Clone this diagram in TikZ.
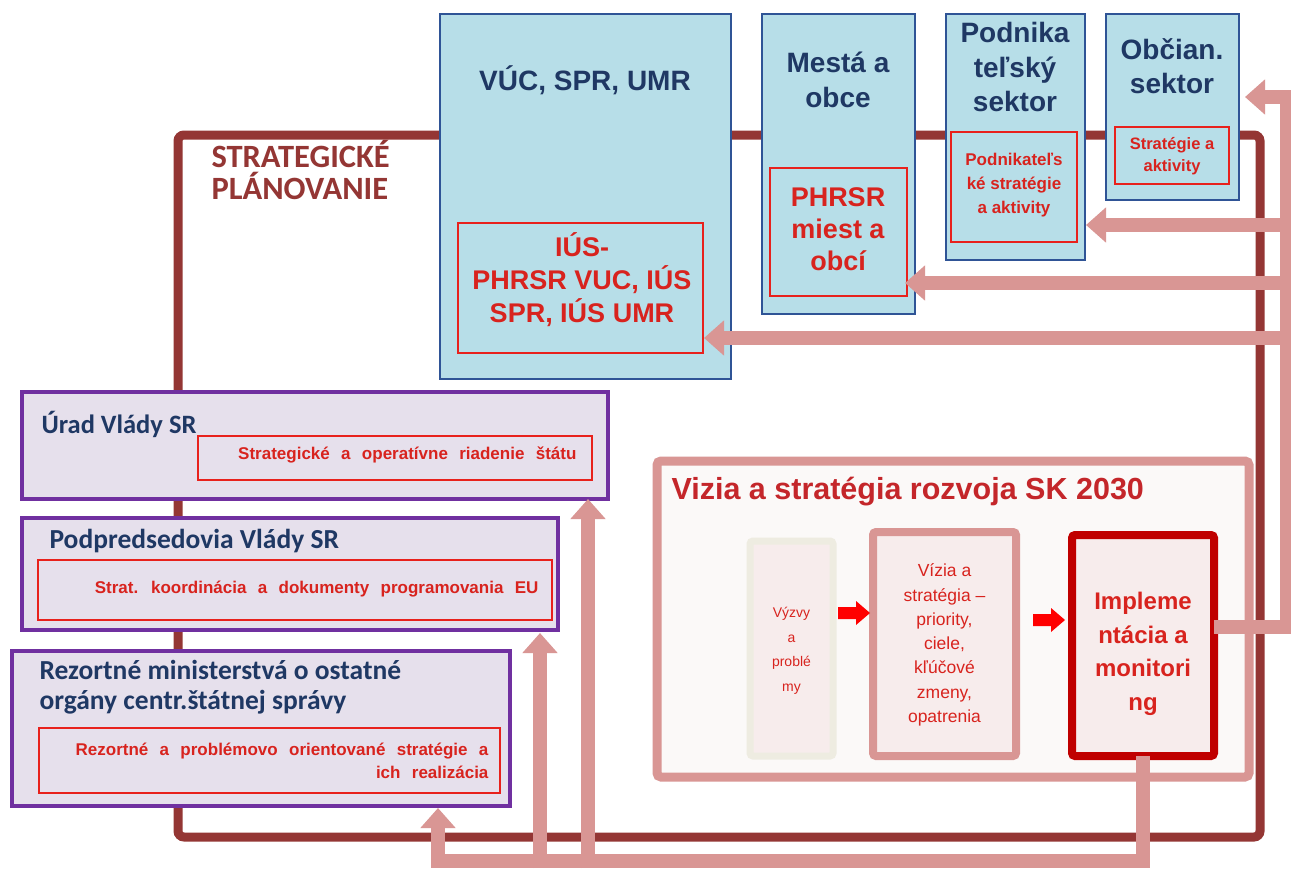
\documentclass[tikz,border=0pt]{standalone}
\usepackage{fontspec}
\setmainfont{Liberation Sans}
\newfontfamily\carl{Carlito}
\newfontfamily\redsm[WordSpace=2.4]{Liberation Sans}
\usetikzlibrary{arrows.meta}
\definecolor{cBlueFill}{HTML}{B7DEE8}
\definecolor{cBlueLine}{HTML}{2F5496}
\definecolor{cNavyTxt}{HTML}{1F3864}
\definecolor{cRedLine}{HTML}{E8211C}
\definecolor{cRedTxt}{HTML}{D8231E}
\definecolor{cPurple}{HTML}{7030A0}
\definecolor{cLilac}{HTML}{E6E0EC}
\definecolor{cFrame}{HTML}{943634}
\definecolor{cPink}{HTML}{D99694}
\definecolor{cPaper}{HTML}{FBF9F8}
\definecolor{cBeige}{HTML}{EEECE1}
\definecolor{cBlush}{HTML}{F7ECEC}
\definecolor{cDeepRed}{HTML}{C00000}
\definecolor{cTitleRed}{HTML}{C4262A}
\newcommand\fsz[2]{\fontsize{#1}{#2}\selectfont}
\begin{document}
\begin{tikzpicture}[x=1pt,y=-1pt,
  box/.style={anchor=north west,inner sep=0pt,outer sep=0pt},
  topbox/.style={box,draw=cBlueLine,line width=2pt,fill=cBlueFill},
  redbox/.style={box,draw=cRedLine,line width=2pt},
  govbox/.style={box,draw=cPurple,line width=4pt,fill=cLilac},
  toptitle/.style={align=center,text=cNavyTxt,font=\bfseries\fsz{28}{34.5}},
  redtxt/.style={align=center,text=cRedTxt,font=\bfseries\fsz{27}{33}},
  redsmall/.style={text=cRedTxt,font=\redsm\bfseries\fsz{17}{23}},
  govtitle/.style={anchor=west,align=left,text=cNavyTxt,font=\carl\bfseries\fsz{27.5}{30}},
  pinkline/.style={draw=cPink,line width=14pt,line join=miter},
  pinktip/.style={-{Triangle[width=34pt,length=20pt]}},
  redarrow/.style={fill=red,draw=none}
]
\useasboundingbox (0,0) rectangle (1291,870);
\fill[white] (0,0) rectangle (1291,870);

% strategic planning frame
\draw[draw=cFrame,line width=9pt,rounded corners=6pt] (178,135) rectangle (1260,837);
\node[anchor=north west,align=left,text=cFrame,font=\carl\bfseries\fsz{32.5}{32}] (sp) at (208,137) {STRATEGICKÉ\\PLÁNOVANIE};

% top boxes
\node[topbox,minimum width=291pt,minimum height=365pt] (vuc) at (440,14) {};
\node[toptitle] (vucT) at (585,80) {VÚC, SPR, UMR};
\node[redbox,minimum width=245pt,minimum height=130pt] (vucI) at (458,223) {};
\node[redtxt] (vucIT) at (582,280) {IÚS-\\PHRSR VUC, IÚS\\SPR, IÚS UMR};

\node[topbox,minimum width=153pt,minimum height=300pt] (mes) at (762,14) {};
\node[toptitle] (mesT) at (838,80) {Mestá a\\obce};
\node[redbox,minimum width=137pt,minimum height=128pt] (mesI) at (770,168) {};
\node[redtxt,font=\bfseries\fsz{27}{32}] (mesIT) at (838,229) {PHRSR\\miest a\\obcí};

\node[topbox,minimum width=139pt,minimum height=246pt] (pod) at (946,14) {};
\node[toptitle] (podT) at (1015,67) {Podnika\\teľský\\sektor};
\node[redbox,minimum width=126pt,minimum height=110pt] (podI) at (951,132) {};
\node[align=center,text=cRedTxt,font=\bfseries\fsz{17}{24}] (podIT) at (1014,185) {Podnikateľs\\ké stratégie\\a aktivity};

\node[topbox,minimum width=133pt,minimum height=186pt] (obc) at (1106,14) {};
\node[toptitle] (obcT) at (1172,66) {Občian.\\sektor};
\node[redbox,minimum width=114pt,minimum height=57pt] (obcI) at (1115,127) {};
\node[align=center,text=cRedTxt,font=\bfseries\fsz{16.5}{22}] (obcIT) at (1172,156) {Stratégie a\\aktivity};

% government boxes
\node[govbox,minimum width=586pt,minimum height=107pt] (urad) at (22,392) {};
\node[govtitle,font=\carl\bfseries\fsz{26.5}{30}] (uradT) at (38,424) {Úrad Vlády SR};
\node[redbox,minimum width=394pt,minimum height=44pt] (uradI) at (198,436) {};
\node[redsmall,anchor=east] (uradIT) at (580,455) {Strategické a operatívne riadenie štátu};

\node[govbox,minimum width=536pt,minimum height=112pt] (podp) at (22,518) {};
\node[govtitle] (podpT) at (46,541) {Podpredsedovia Vlády SR};
\node[redbox,minimum width=514pt,minimum height=60pt] (podpI) at (38,560) {};
\node[redsmall,anchor=east] (podpIT) at (542,589) {Strat. koordinácia a dokumenty programovania EU};

\node[govbox,minimum width=498pt,minimum height=155pt] (rez) at (12,651) {};
\node[govtitle] (rezT) at (36,687) {Rezortné ministerstvá o ostatné\\orgány centr.štátnej správy};
\node[redbox,minimum width=461pt,minimum height=65pt] (rezI) at (39,728) {};
\node[redsmall,align=right,anchor=east] (rezIT) at (492,761) {Rezortné a problémovo orientované stratégie a\\ich realizácia};

% vision box
\node[box,draw=cPink,line width=9pt,fill=cPaper,rounded corners=4pt,minimum width=592pt,minimum height=316pt] (viz) at (657,461) {};
\node[anchor=west,text=cTitleRed,font=\bfseries\fsz{30.5}{32}] (vizT) at (668,492) {Vizia a stratégia rozvoja SK 2030};

\node[box,draw=cBeige,line width=7pt,fill=cBlush,rounded corners=3pt,minimum width=83pt,minimum height=215pt] (vyz) at (750,541) {};
\node[align=center,text=cRedTxt,font=\fsz{14}{24.5}] (vyzT) at (791.5,651) {Výzvy\\a\\problé\\my};

\node[box,draw=cPink,line width=8pt,fill=cBlush,rounded corners=3pt,minimum width=143pt,minimum height=224pt] (vis) at (873,532) {};
\node[align=center,text=cRedTxt,font=\fsz{17.5}{24.3}] (visT) at (944.5,645) {Vízia a\\stratégia --\\priority,\\ciele,\\kľúčové\\zmeny,\\opatrenia};

\node[box,draw=cDeepRed,line width=8pt,fill=cBlush,rounded corners=3pt,minimum width=142pt,minimum height=221pt] (impl) at (1072,535) {};
\node[align=center,text=cRedTxt,font=\bfseries\fsz{24}{33.5}] (implT) at (1143,654) {Impleme\\ntácia a\\monitori\\ng};

% small red block arrows between the steps
\coordinate (ra1) at (838,613);
\coordinate (ra2) at (1033,620);
\fill[redarrow] (ra1) ++(0,-6) -- ++(18,0) -- ++(0,-6) -- ++(14,12) -- ++(-14,12) -- ++(0,-6) -- ++(-18,0) -- cycle;
\fill[redarrow] (ra2) ++(0,-6) -- ++(18,0) -- ++(0,-6) -- ++(14,12) -- ++(-14,12) -- ++(0,-6) -- ++(-18,0) -- cycle;

% coordinates for connector routing
\coordinate (trA) at (1214,627);
\coordinate (trB) at (1287,627);
\coordinate (trTop) at (1287,97);
\coordinate (tipObc) at (1245,97);
\coordinate (b1) at (1287,225);
\coordinate (tipPod) at (1086,225);
\coordinate (b2) at (1287,283);
\coordinate (tipMes) at (905,283);
\coordinate (b3) at (1287,338);
\coordinate (tipVuc) at (704,338);
\coordinate (bc) at (1143,861);
\coordinate (bl) at (438,861);
\coordinate (tipRez) at (438,808);
\coordinate (u2) at (540,868);
\coordinate (tipPodp) at (540,633);
\coordinate (u3) at (588,868);
\coordinate (tipUrad) at (588,499);

% pink connectors
\draw[pinkline,pinktip] (trA) -- (trB) -- (trTop) -- (tipObc);
\draw[pinkline,pinktip] (b1) -- (tipPod);
\draw[pinkline,pinktip] (b2) -- (tipMes);
\draw[pinkline,pinktip] (b3) -- (tipVuc);
\draw[pinkline,pinktip] (impl.south) -- (bc) -- (bl) -- (tipRez);
\draw[pinkline,pinktip] (u2) -- (tipPodp);
\draw[pinkline,pinktip] (u3) -- (tipUrad);
\end{tikzpicture}
\end{document}
